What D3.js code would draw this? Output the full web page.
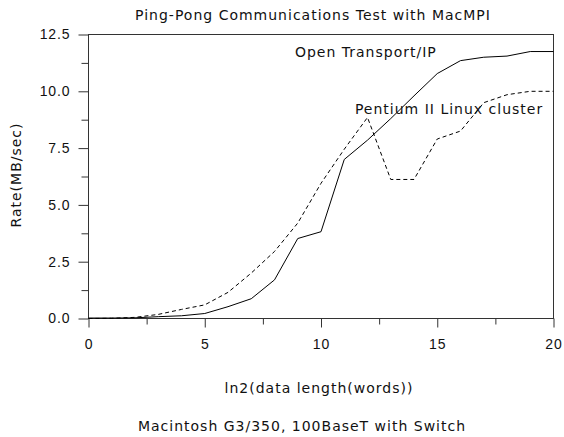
<!DOCTYPE html>
<html>
<head>
<meta charset="utf-8">
<script src="https://cdn.jsdelivr.net/npm/d3@7"></script>
<style>
  html, body { margin: 0; padding: 0; background: #fff; }
  svg { display: block; font-family: "DejaVu Sans", sans-serif; }
  .lbl { font-size: 14px; letter-spacing: 1px; fill: #111; }
  .axis text { font-size: 14px; letter-spacing: 0.9px; fill: #111; }
  .axis line { stroke: #333; }
  .frame { fill: none; stroke: #333; }
  .series { fill: none; stroke: #000; stroke-width: 1; }
</style>
</head>
<body>
<svg id="chart" width="564" height="437"></svg>
<script>
// log2 of message length (words)
const lengths = [0, 1, 2, 3, 4, 5, 6, 7, 8, 9, 10, 11, 12, 13, 14, 15, 16, 17, 18, 19, 20];
// MB/sec, Open Transport/IP (solid)
const openTransport = [0.02, 0.02, 0.03, 0.08, 0.12, 0.22, 0.52, 0.87, 1.7, 3.52, 3.82, 7.0, 7.85, 8.8, 9.8, 10.78, 11.35, 11.5, 11.55, 11.75, 11.75];
// MB/sec, Pentium II Linux cluster (dashed)
const pentiumLinux = [0.0, 0.01, 0.05, 0.18, 0.4, 0.6, 1.15, 2.0, 2.95, 4.2, 5.95, 7.45, 8.85, 6.12, 6.12, 7.9, 8.25, 9.5, 9.85, 10.0, 10.0];

const xTicks = [0, 5, 10, 15, 20];
const xMinor = [2.5, 7.5, 12.5, 17.5];
const yTicks = [0, 2.5, 5, 7.5, 10, 12.5];
const yMinor = [1.25, 3.75, 6.25, 8.75, 11.25];

const seriesLabels = [
  { text: 'Open Transport/IP', x: 8.9, y: 11.47 },
  { text: 'Pentium II Linux cluster', x: 11.48, y: 9.0 }
];

const svg = d3.select('#chart');
const margin = { top: 34, right: 11, bottom: 119, left: 88 };
const width = 564 - margin.left - margin.right;
const height = 437 - margin.top - margin.bottom;

const g = svg.append('g').attr('transform', `translate(${margin.left},${margin.top})`);

const x = d3.scaleLinear().domain([0, 20]).range([0, width]);
const y = d3.scaleLinear().domain([0, 12.5]).range([height, 0]);

// Rahmen
g.append('rect').attr('class', 'frame')
  .attr('x', 0.5).attr('y', 0.5)
  .attr('width', width).attr('height', height);

// X-Achse
const xAxis = g.append('g').attr('class', 'axis')
  .attr('transform', `translate(0.5,${height + 0.5})`);
xAxis.call(d3.axisBottom(x).tickValues(xTicks).tickSize(9).tickPadding(12).tickFormat(d3.format('d')));
xAxis.append('g').call(d3.axisBottom(x).tickValues(xMinor).tickSize(6).tickFormat(''))
  .select('.domain').remove();
xAxis.selectAll('.domain').remove();

// Y-Achse
const yAxis = g.append('g').attr('class', 'axis')
  .attr('transform', 'translate(0.5,0.5)');
yAxis.call(d3.axisLeft(y).tickValues(yTicks).tickSize(10).tickPadding(8).tickFormat(d3.format('.1f')));
yAxis.append('g').call(d3.axisLeft(y).tickValues(yMinor).tickSize(7).tickFormat(''))
  .select('.domain').remove();
yAxis.selectAll('.domain').remove();

// Linien
const line = d3.line()
  .x((d, i) => x(lengths[i]) + 0.5)
  .y(d => y(d) + 0.5);

g.append('path').datum(openTransport).attr('class', 'series').attr('d', line);
g.append('path').datum(pentiumLinux).attr('class', 'series')
  .attr('stroke-dasharray', '4,3').attr('d', line);

// Beschriftungen an den Kurven
g.selectAll('.series-label')
  .data(seriesLabels)
  .enter()
  .append('text')
  .attr('class', 'lbl')
  .attr('x', d => x(d.x))
  .attr('y', d => y(d.y))
  .text(d => d.text);

// Titel und Achsentitel
svg.append('text').attr('class', 'lbl')
  .attr('x', 313).attr('y', 20).attr('text-anchor', 'middle')
  .text('Ping-Pong Communications Test with MacMPI');

svg.append('text').attr('class', 'lbl')
  .attr('x', 319).attr('y', 393).attr('text-anchor', 'middle')
  .text('ln2(data length(words))');

svg.append('text').attr('class', 'lbl')
  .attr('x', 302).attr('y', 431).attr('text-anchor', 'middle')
  .text('Macintosh G3/350, 100BaseT with Switch');

svg.append('text').attr('class', 'lbl')
  .attr('transform', 'translate(21,175) rotate(-90)')
  .attr('text-anchor', 'middle')
  .text('Rate(MB/sec)');
</script>
</body>
</html>
